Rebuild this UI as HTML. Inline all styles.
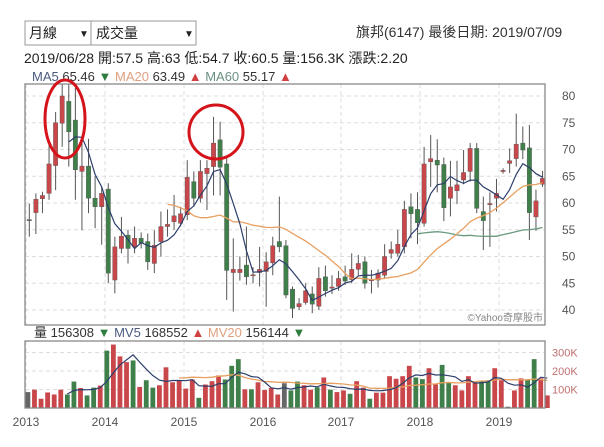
<!DOCTYPE html>
<html><head><meta charset="utf-8"><style>
body{margin:0;background:#fff;width:604px;height:447px;overflow:hidden;font-family:"Liberation Sans","Noto Sans CJK TC",sans-serif;}
svg{position:absolute;left:0;top:0}
</style></head><body>
<svg id="s" width="604" height="447" xmlns="http://www.w3.org/2000/svg" font-family="Liberation Sans, Noto Sans CJK TC, sans-serif">
<rect x="25" y="21" width="66" height="24" fill="#fff" stroke="#999"/>
<text x="29" y="38" font-size="14" fill="#222">月線</text><text x="79" y="37" font-size="10" fill="#222">▼</text>
<rect x="91" y="21" width="105" height="24" fill="#fff" stroke="#999"/>
<text x="96" y="38" font-size="14" fill="#222">成交量</text><text x="184" y="37" font-size="10" fill="#222">▼</text>
<text x="356" y="37" font-size="14" fill="#333">旗邦(6147)   最後日期: 2019/07/09</text>
<text x="24" y="63" font-size="14" fill="#222">2019/06/28  開:57.5  高:63  低:54.7  收:60.5  量:156.3K  漲跌:2.20</text>
<text x="32" y="81" font-size="13"><tspan fill="#4a5a80">MA5</tspan><tspan fill="#333"> 65.46 </tspan><tspan fill="#2e7d3e">▼</tspan><tspan fill="#e0a080">   MA20</tspan><tspan fill="#333"> 63.49 </tspan><tspan fill="#d04040">▲</tspan><tspan fill="#6a9080">   MA60</tspan><tspan fill="#333"> 55.17 </tspan><tspan fill="#d04040">▲</tspan></text>
<text x="34" y="337" font-size="13"><tspan fill="#333">量 156308 </tspan><tspan fill="#2e7d3e">▼</tspan><tspan fill="#4a5a80">   MV5</tspan><tspan fill="#333"> 168552 </tspan><tspan fill="#d04040">▲</tspan><tspan fill="#e0a080">   MV20</tspan><tspan fill="#333"> 156144 </tspan><tspan fill="#2e7d3e">▼</tspan></text>
<g id="g"></g>
</svg>
<script>
var g=document.getElementById('g'),h='';
function P(p){return 96+(80-p)*5.35}
function V(v){return 408-v*0.185}
var X0=25,X1=545;
// grid
for(var p=40;p<=80;p+=5){h+='<line x1="'+X0+'" x2="'+X1+'" y1="'+P(p)+'" y2="'+P(p)+'" stroke="#ddd" stroke-dasharray="4,3"/>';h+='<text x="562" y="'+(P(p)+4)+'" font-size="12" fill="#555">'+p+'</text>';}
var yrs=[26,105,184,263,341,420,499],lab=['2013','2014','2015','2016','2017','2018','2019'];
yrs.forEach(function(x,i){h+='<line x1="'+x+'" x2="'+x+'" y1="84" y2="325" stroke="#ddd" stroke-dasharray="4,3"/><line x1="'+x+'" x2="'+x+'" y1="341" y2="408" stroke="#ddd" stroke-dasharray="4,3"/>';h+='<text x="'+x+'" y="426" font-size="12" fill="#555" text-anchor="middle">'+lab[i]+'</text>';});
[100,200,300].forEach(function(v){h+='<line x1="'+X0+'" x2="'+X1+'" y1="'+V(v)+'" y2="'+V(v)+'" stroke="#ddd" stroke-dasharray="4,3"/><text x="552" y="'+(V(v)+4)+'" font-size="11" fill="#c07070">'+v+'K</text>';});
var C=[[56.9,56.9,59.9,53.7],[58.2,60.7,61.8,54.2],[60.8,61.4,62.1,58.1],[61.8,67.3,70.8,60.6],[67,75,77,62.4],[74.9,80,83,70.5],[79,73.3,82.7,66.8],[75.5,66.2,81.5,60.6],[65.9,66.9,72.4,54.9],[66.9,60.9,72,58.1],[60.9,59.3,65,55.3],[59.3,61.8,63,52.2],[62.6,46.9,63.7,45],[45.6,51.8,53.7,43.1],[51.5,53.8,57.4,50.6],[54,51.5,55,48.7],[51.8,53.4,55.6,50.6],[53.4,52.5,54.5,51.5],[52.8,49,54.3,47.5],[48.7,52.1,54.9,46.9],[52.8,55.6,58.4,50],[55.6,56,58.8,53.7],[56.5,57.6,61.5,55],[56.2,58,59.3,55.6],[57.8,64.8,68,56.8],[64,60.9,65.9,59.3],[60.9,65.9,68,60.1],[65.5,66.5,68,58.7],[66.8,71.2,76.1,61.4],[71.8,66.7,75.2,61.4],[67.3,47.4,68.7,41.9],[47,47.6,53.4,39.7],[47,47.6,50,45.5],[48.4,46.2,55.6,44.7],[46.5,46.6,48,45],[47,47.6,51.8,44.4],[47.2,49,50.8,40.6],[48.8,52,53.7,46.5],[52.8,51.8,61.2,50.8],[52,42.8,53.1,42.2],[43.9,40.3,44.4,38.5],[40.6,41.2,42.2,40],[41.4,43.6,45,41],[43,41.1,44.4,39.4],[40.7,45.9,48,40],[46.2,43.6,48.3,42.5],[44.1,44.3,46.5,43],[44.4,45.9,47.3,43.6],[46.2,45.4,48.3,44.7],[45.7,47.6,50.6,45],[47.6,48.7,50.3,46.5],[49,45,50,44],[45.5,45.7,47.5,43.1],[45.6,46.9,47.6,44.2],[46.5,50,52.3,46],[50.6,51.3,52.8,49.6],[50.6,52.3,55,50],[51.8,58.8,60.4,50.6],[59.3,58,61.8,53.4],[58.8,56.3,62,52.3],[56.2,67.3,70.5,55.6],[67.7,68.3,72.7,63],[68,67.1,71.9,62],[67.2,59.1,68.5,56.6],[60.9,63,67.9,57.5],[62.3,63.4,67.9,59.8],[64.3,65.7,69.9,63.5],[65.9,70.2,71.2,64],[70.2,59,71.2,58.1],[58.4,56.7,61.2,51.2],[59.7,59.9,62,51.8],[60.9,61.8,64.5,58.4],[65.9,66.1,66.5,65.5],[67.4,67.9,70.2,65.6],[68.3,71,76.7,66.8],[71.2,69.9,74.3,68.2],[70.3,58.2,74.6,53.1],[57.4,60.4,62.5,54.8],[63.5,64.6,66,63]];
function cx(i){return 29.3+i*6.58}
var RED='#c9474a',GRN='#3e7f4a';
C.forEach(function(c,i){var x=cx(i),o=c[0],cl=c[1];var col=cl>o?RED:(cl<o?GRN:'#777');if(i==0)col='#666';
var hi=Math.min(c[2],82.2);h+='<line x1="'+x+'" x2="'+x+'" y1="'+P(hi)+'" y2="'+P(c[3])+'" stroke="#555" stroke-width="1"/>';
var t=P(Math.max(o,cl)),b=P(Math.min(o,cl));h+='<rect x="'+(x-2.2)+'" y="'+t+'" width="4.4" height="'+Math.max(b-t,1.2)+'" fill="'+col+'" stroke="#555" stroke-width="0.4"/>';});
function ma(arr,n,s){var pts=[];for(var i=n-1;i<arr.length;i++){var sm=0;for(var j=i-n+1;j<=i;j++)sm+=arr[j];pts.push([i,sm/n]);}return pts.filter(function(p){return p[0]>=s});}
var cls=C.map(function(c){return c[1]});
function line(pts,fx,fy,col,w){return '<polyline fill="none" stroke="'+col+'" stroke-width="'+w+'" points="'+pts.map(function(p){return fx(p[0]).toFixed(1)+','+fy(p[1]).toFixed(1)}).join(' ')+'"/>';}
h+=line(ma(cls,60,59),cx,P,'#6a9a80',1.3);
h+=line(ma(cls,20,21),cx,P,'#e8a060',1.3);
h+=line(ma(cls,5,6),cx,P,'#2c3e6b',1.2);
// volume
var VV=[[86,'g'],[99,'r'],[50,'r'],[84,'r'],[73,'r'],[99,'r'],[73,'G'],[143,'G'],[108,'r'],[68,'G'],[110,'G'],[121,'r'],[310,'G'],[343,'r'],[279,'r'],[248,'r'],[257,'G'],[114,'r'],[150,'G'],[110,'G'],[123,'r'],[220,'r'],[139,'r'],[150,'r'],[105,'r'],[154,'r'],[55,'G'],[127,'r'],[145,'r'],[176,'r'],[154,'G'],[228,'G'],[264,'G'],[101,'r'],[101,'G'],[139,'r'],[97,'r'],[108,'r'],[73,'r'],[134,'g'],[95,'G'],[143,'G'],[123,'r'],[99,'r'],[112,'G'],[165,'r'],[99,'G'],[86,'r'],[95,'r'],[77,'G'],[145,'r'],[110,'r'],[50,'G'],[83,'r'],[83,'r'],[172,'r'],[158,'r'],[172,'r'],[228,'r'],[165,'G'],[156,'G'],[215,'r'],[128,'r'],[233,'G'],[141,'G'],[123,'r'],[95,'r'],[172,'r'],[141,'r'],[147,'G'],[150,'G'],[215,'r'],[150,'r'],[7,'g'],[95,'r'],[160,'r'],[154,'G'],[264,'G'],[160,'r'],[68,'r']];
function vx(i){return 27.9+i*6.575}
VV.forEach(function(v,i){var col=v[1]=='r'?RED:(v[1]=='G'?GRN:'#666');h+='<rect x="'+(vx(i)-2.4)+'" y="'+V(v[0])+'" width="4.8" height="'+(408-V(v[0]))+'" fill="'+col+'"/>';});
var vs=VV.map(function(v){return v[0]});
h+=line(ma(vs,20,23),vx,V,'#e8a060',1.3);
h+=line(ma(vs,5,6),vx,V,'#2c3e6b',1.2);
// frames
h+='<rect x="25" y="84" width="520" height="241" fill="none" stroke="#888" stroke-width="1.3"/>';
h+='<rect x="25" y="341" width="520" height="67" fill="none" stroke="#888" stroke-width="1.3"/>';
h+='<text x="543" y="321" font-size="10" fill="#888" text-anchor="end">©Yahoo奇摩股市</text>';
// circles
h+='<ellipse cx="65" cy="119" rx="20" ry="39" fill="none" stroke="#d4141a" stroke-width="3"/>';
h+='<ellipse cx="216" cy="132" rx="27" ry="27" fill="none" stroke="#d4141a" stroke-width="3"/>';
g.innerHTML=h;
</script>
</body></html>
